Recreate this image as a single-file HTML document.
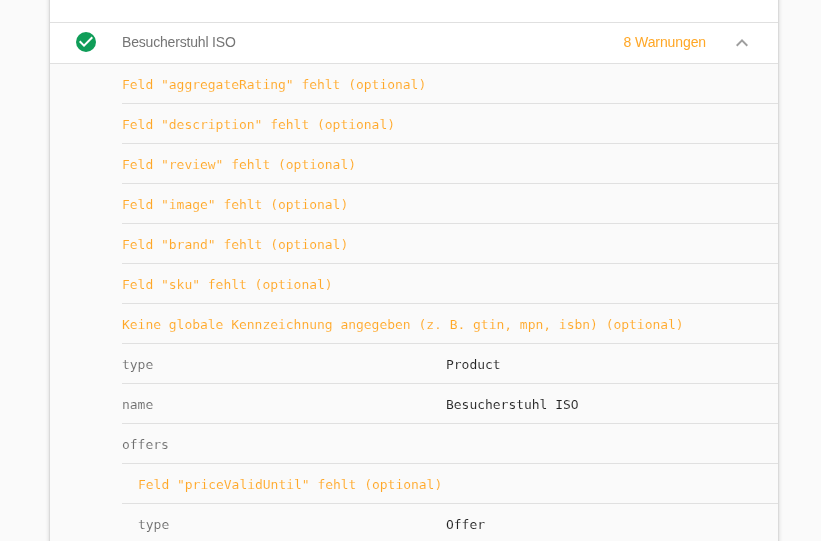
<!DOCTYPE html>
<html lang="de">
<head>
<meta charset="utf-8">
<title>Test für strukturierte Daten</title>
<style>
html,body{margin:0;padding:0;}
body{width:821px;height:541px;overflow:hidden;background:#fafafa;font-family:"Liberation Sans",Arial,sans-serif;position:relative;}
.card{will-change:transform;position:absolute;left:50px;top:-20px;width:728px;height:600px;background:#fafafa;
 box-shadow:0 2px 2px 0 rgba(0,0,0,.14),0 1px 5px 0 rgba(0,0,0,.12),0 0 6px 0 rgba(0,0,0,.09);}
.top{height:42px;background:#fff;border-bottom:1px solid #e0e0e0;}
.head{position:relative;height:40px;background:#fff;border-bottom:1px solid #e0e0e0;}
.head .ok{position:absolute;left:24px;top:7px;width:24px;height:24px;}
.head .title{position:absolute;left:72px;top:0;line-height:38px;font-size:14px;letter-spacing:-0.18px;color:#757575;white-space:nowrap;}
.head .warn{position:absolute;right:72px;top:0;line-height:38px;font-size:14px;letter-spacing:-0.1px;color:#ffa726;white-space:nowrap;}
.head .chev{position:absolute;left:680px;top:8px;width:24px;height:24px;}
.rows{margin-left:72px;}
.row{-webkit-text-stroke:0.1px #fafafa;position:relative;height:39px;border-bottom:1px solid #e0e0e0;font-family:"DejaVu Sans Mono","Liberation Mono",monospace;font-size:13px;letter-spacing:-0.026px;line-height:42px;white-space:nowrap;color:#6c6c6c;}
.row.w{color:#ffa726;}
.row .v{position:absolute;left:324px;top:0;color:#212121;}
.row.i1{padding-left:16px;}
.row.i1 .v{left:324px;}
</style>
</head>
<body>
<div class="card">
  <div class="top"></div>
  <div class="head">
    <svg class="ok" viewBox="0 0 24 24"><circle cx="12" cy="12" r="10" fill="#0f9d58"/><path d="M10 17l-5-5 1.41-1.41L10 14.17l7.59-7.59L19 8z" fill="#fff"/></svg>
    <span class="title">Besucherstuhl ISO</span>
    <span class="warn">8 Warnungen</span>
    <svg class="chev" viewBox="0 0 24 24"><path d="M12 8l-6 6 1.41 1.41L12 10.83l4.59 4.58L18 14z" fill="#9e9e9e"/></svg>
  </div>
  <div class="rows">
    <div class="row w">Feld "aggregateRating" fehlt (optional)</div>
    <div class="row w">Feld "description" fehlt (optional)</div>
    <div class="row w">Feld "review" fehlt (optional)</div>
    <div class="row w">Feld "image" fehlt (optional)</div>
    <div class="row w">Feld "brand" fehlt (optional)</div>
    <div class="row w">Feld "sku" fehlt (optional)</div>
    <div class="row w">Keine globale Kennzeichnung angegeben (z. B. gtin, mpn, isbn) (optional)</div>
    <div class="row">type<span class="v">Product</span></div>
    <div class="row">name<span class="v">Besucherstuhl ISO</span></div>
    <div class="row">offers</div>
    <div class="row w i1">Feld "priceValidUntil" fehlt (optional)</div>
    <div class="row i1">type<span class="v">Offer</span></div>
  </div>
</div>
</body>
</html>
